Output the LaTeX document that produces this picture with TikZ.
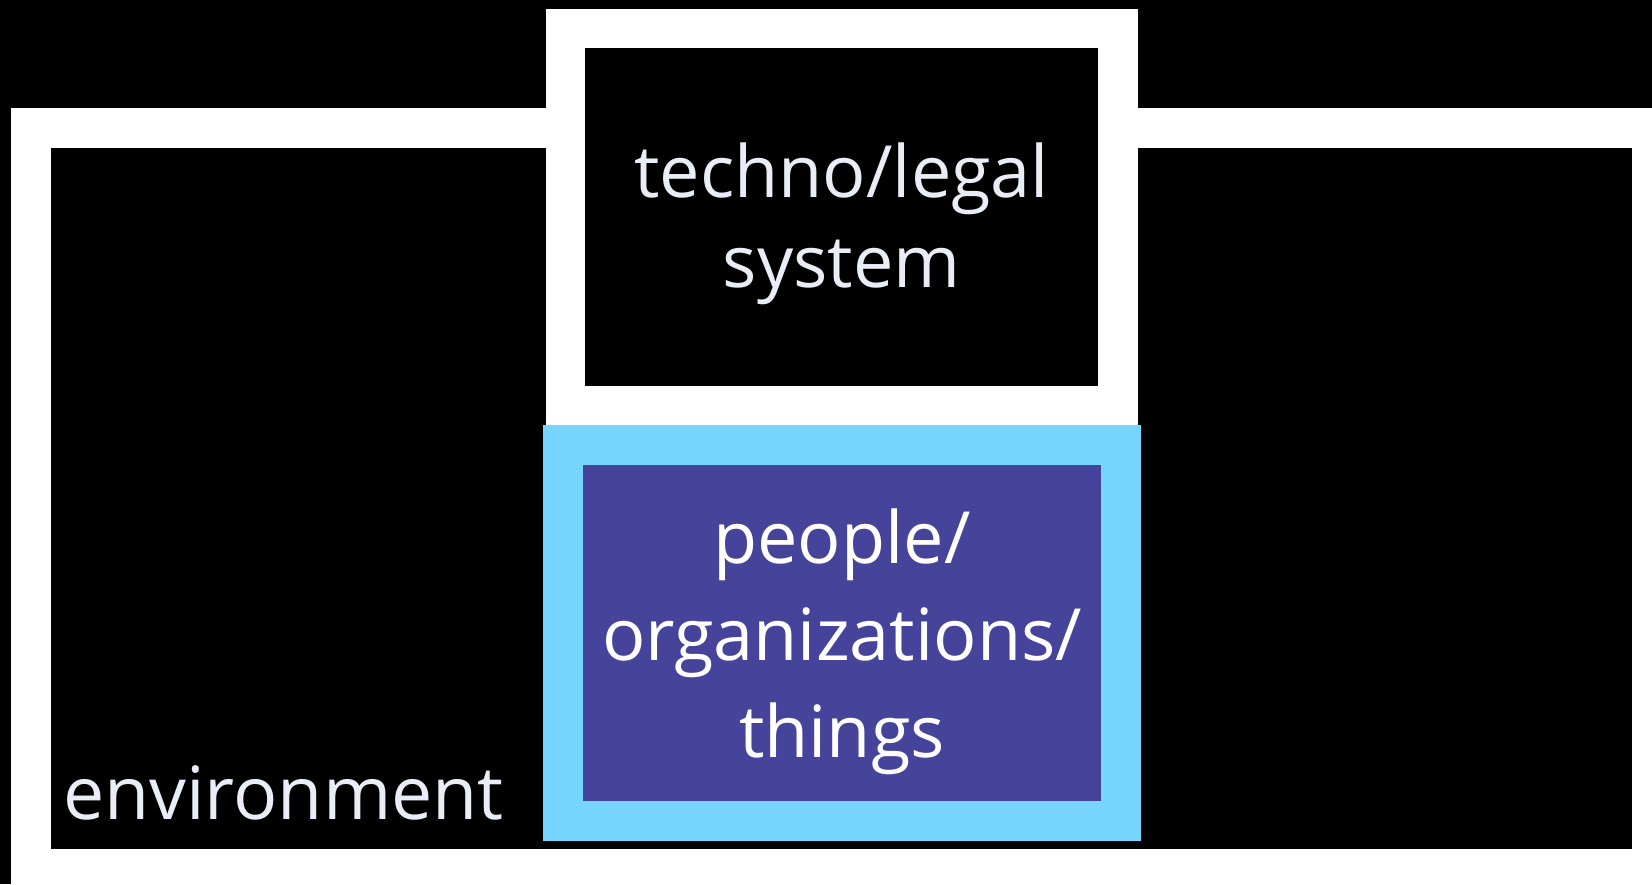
\documentclass[tikz,border=0pt]{standalone}
\usepackage{fontspec}
\setmainfont{Open Sans}
\definecolor{paletext}{RGB}{233,237,246}
\definecolor{skyframe}{RGB}{120,213,254}
\definecolor{peoplefill}{RGB}{70,68,154}
\begin{document}
\begin{tikzpicture}[x=1pt,y=-1pt,
  frame/.style={draw=white, line width=40pt, fill=black, inner sep=0pt},
  boxtext/.style={text=paletext, font=\fontsize{72}{90}\selectfont, align=center}]
\fill[black] (0,0) rectangle (1652,884);
\useasboundingbox (0,0) rectangle (1652,884);
\node (env) [frame, minimum width=1621pt, minimum height=741pt] at (841.5,498.5) {};
\node (tech) [frame, line width=39.5pt, minimum width=552.5pt, minimum height=377pt] at (841.75,217) {};
\node (people) [frame, draw=skyframe, fill=peoplefill, minimum width=558pt, minimum height=376pt] at (842,633) {};
\node (techtext) [boxtext] at ([yshift=-7pt]tech.center) {techno/legal\\system};
\node (peopletext) [boxtext, text=white, font=\fontsize{72}{97}\selectfont] at ([yshift=-9pt]people.center) {people/\\organizations/\\things};
\node (envlabel) [boxtext, anchor=base west, inner sep=0pt, font=\fontsize{73.5}{90}\selectfont] at (63,819) {environment};
\end{tikzpicture}
\end{document}
